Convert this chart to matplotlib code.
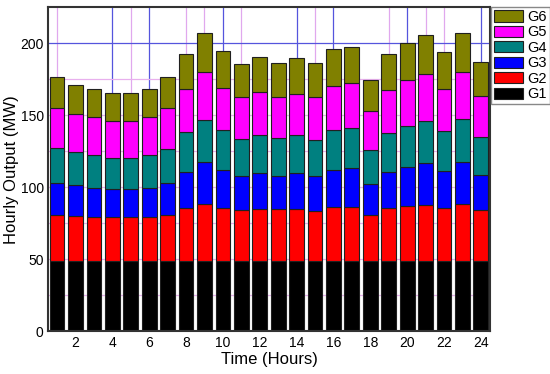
import matplotlib
matplotlib.use("Agg")
import matplotlib.pyplot as plt
import numpy as np

plt.rcParams['font.family'] = ['Liberation Sans', 'DejaVu Sans']

hours = list(range(1, 25))
G1 = [49] * 24
G2 = [31.7, 31.3, 30.6, 30.1, 30.6, 30.6, 31.7, 36.4, 39.4, 36.8, 35.2, 36.0,
      36.0, 35.7, 34.7, 37.0, 37.5, 31.7, 36.4, 38.0, 39.0, 36.8, 39.4, 35.2]
G3 = [22.4, 21.2, 20.1, 19.4, 18.9, 20.1, 22.3, 25.4, 28.8, 26.1, 23.6, 25.0,
      22.8, 24.9, 24.3, 25.9, 26.6, 21.5, 25.4, 27.2, 28.6, 25.7, 29.3, 24.3]
G4 = [24.4, 23.0, 22.6, 22.0, 22.0, 22.6, 23.8, 27.2, 29.8, 28.1, 25.7, 26.5,
      26.2, 26.4, 25.0, 28.1, 27.9, 23.8, 26.5, 28.3, 29.4, 27.5, 29.6, 26.5]
G5 = [27.2, 26.2, 26.1, 25.6, 25.6, 26.1, 28.1, 30.3, 32.8, 29.2, 28.8, 29.7,
      28.7, 29.0, 29.3, 30.1, 31.0, 26.8, 30.5, 31.8, 32.4, 29.5, 32.8, 28.4]
G6 = [21.5, 20.1, 19.6, 19.2, 19.2, 19.6, 21.3, 24.5, 27.5, 25.4, 23.1, 24.2,
      23.6, 24.8, 23.6, 25.7, 25.4, 21.5, 25.0, 26.1, 26.9, 25.4, 27.2, 23.7]

series = [("G1", G1, "#000000"), ("G2", G2, "#FF0000"), ("G3", G3, "#0000FF"),
          ("G4", G4, "#008080"), ("G5", G5, "#FF00FF"), ("G6", G6, "#808000")]

xticks = list(range(2, 25, 2))
yticks = [0, 50, 100, 150, 200]
vgrid_major = [4, 6, 10, 14, 16, 20, 24]
vgrid_minor = [1, 5, 8, 9, 11, 15, 19, 21, 22]
hgrid_major = [200]
hgrid_minor = [25, 50, 75, 100, 125, 150, 175]

fig = plt.figure(figsize=(5.5, 3.74), dpi=100)
ax = fig.add_axes([0.087, 0.114, 0.804, 0.867])

for v in vgrid_major:
    ax.axvline(v, color="#5555DD", lw=0.9, zorder=0)
for v in vgrid_minor:
    ax.axvline(v, color="#E0A8EE", lw=0.9, zorder=0)
for h in hgrid_major:
    ax.axhline(h, color="#5555DD", lw=0.9, zorder=0)
for h in hgrid_minor:
    ax.axhline(h, color="#E8B0EE", lw=0.9, zorder=0)

bottom = np.zeros(24)
handles = []
for name, vals, col in series:
    b = ax.bar(hours, vals, width=0.8, bottom=bottom, color=col,
               edgecolor="#202020", linewidth=0.8, label=name, zorder=2)
    handles.append(b)
    bottom += np.array(vals)

ax.set_xlim(0.5, 24.5)
ax.set_ylim(0, 225)
ax.set_xticks(xticks)
ax.set_yticks(yticks)
ax.tick_params(axis='both', length=0, labelsize=10, pad=3)
for s in ax.spines.values():
    s.set_color("#333333")
    s.set_linewidth(1.5)

ax.set_xlabel("Time (Hours)", fontsize=12, labelpad=2)
ax.set_ylabel("Hourly Output (MW)", fontsize=12, labelpad=1)

leg = ax.legend(handles[::-1], [s[0] for s in series][::-1],
                loc="upper left", bbox_to_anchor=(1.003, 1.0), fancybox=False,
                fontsize=10.5, handlelength=2.0, handleheight=0.8,
                labelspacing=0.1, borderpad=0.2, handletextpad=0.25,
                borderaxespad=0.0, framealpha=1)
leg.get_frame().set_edgecolor("#888888")
leg.get_frame().set_linewidth(1.0)

fig.savefig("out.png", dpi=100)
